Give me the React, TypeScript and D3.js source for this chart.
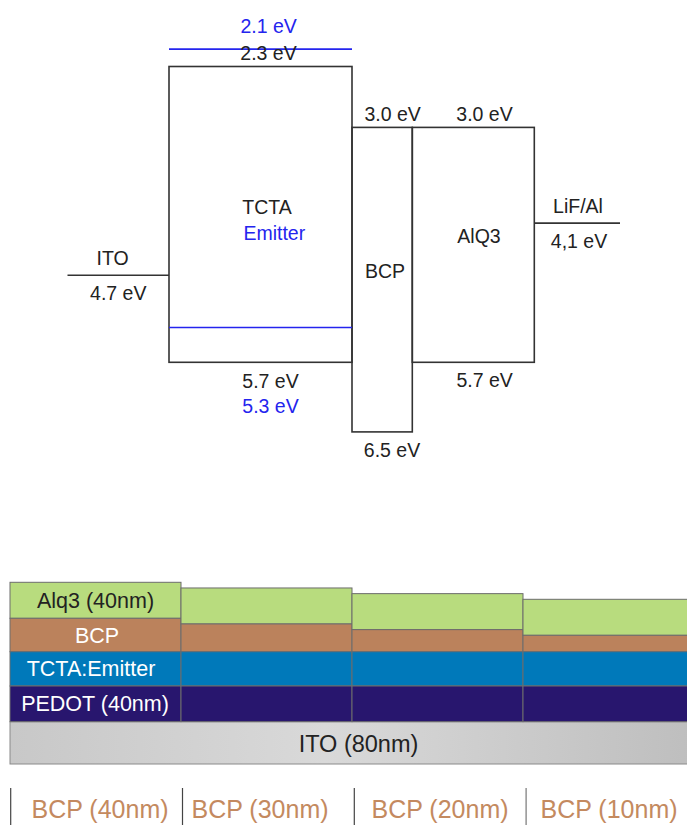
import { useEffect, useRef } from 'react';
import * as d3 from 'd3';

// energy levels (eV)
const boxMaterials = ['TCTA', 'BCP', 'AlQ3'];
const boxLumo = [2.3, 3.0, 3.0];
const boxHomo = [5.7, 6.5, 5.7];
const emitterLevels = [2.1, 5.3];
const electrodes = ['ITO', 'LiF/Al'];
const workFunction = [4.7, 4.1];
const workFunctionText = ['4.7 eV', '4,1 eV'];

// device stack
const deviceColumns = ['BCP (40nm)', 'BCP (30nm)', 'BCP (20nm)', 'BCP (10nm)'];
const bcpThickness = [40, 30, 20, 10];
const stackLabels = ['Alq3 (40nm)', 'BCP', 'TCTA:Emitter', 'PEDOT (40nm)'];
const itoLabel = 'ITO (80nm)';

const W = 687;
const H = 825;
const FONT = '"Liberation Sans", Arial, sans-serif';
const BLUE = '#2424ee';
const INK = '#222';

export default function App() {
  const svgRef = useRef<SVGSVGElement>(null);

  useEffect(() => {
    if (!svgRef.current) return;
    const svg = d3.select(svgRef.current);
    svg.selectAll('*').remove();

    const fmt = (v: number) => `${v.toFixed(1)} eV`;

    // ---------- energy diagram ----------
    const eY = d3.scaleLinear().domain([2.3, 5.7]).range([66.5, 362.3]);
    const edges = [67.5, 169, 352, 412.3, 534.3, 620];

    const top = svg.append('g');

    // boxes
    boxMaterials.forEach((_, i) => {
      top
        .append('rect')
        .attr('x', edges[i + 1])
        .attr('y', eY(boxLumo[i]))
        .attr('width', edges[i + 2] - edges[i + 1])
        .attr('height', eY(boxHomo[i]) - eY(boxLumo[i]))
        .attr('fill', 'none')
        .attr('stroke', '#333')
        .attr('stroke-width', 1.6);
    });

    // emitter levels inside TCTA
    emitterLevels.forEach((v) => {
      top
        .append('line')
        .attr('x1', edges[1])
        .attr('x2', edges[2])
        .attr('y1', eY(v))
        .attr('y2', eY(v))
        .attr('stroke', BLUE)
        .attr('stroke-width', 1.6);
    });

    // electrodes
    const elX = [
      [edges[0], edges[1]],
      [edges[4], edges[5]],
    ];
    electrodes.forEach((_, i) => {
      top
        .append('line')
        .attr('x1', elX[i][0])
        .attr('x2', elX[i][1])
        .attr('y1', eY(workFunction[i]))
        .attr('y2', eY(workFunction[i]))
        .attr('stroke', '#333')
        .attr('stroke-width', 1.6);
    });

    const label = (x: number, y: number, t: string, color = INK, size = 19.5) =>
      top
        .append('text')
        .attr('x', x)
        .attr('y', y)
        .attr('text-anchor', 'middle')
        .attr('font-family', FONT)
        .attr('font-size', size)
        .attr('fill', color)
        .text(t);

    // level labels
    const lumoX = [268.5, 392.7, 484.5];
    const homoX = [270.5, 392, 484.7];
    const homoDy = [26, 25, 24.5];
    boxMaterials.forEach((_, i) => {
      label(lumoX[i], eY(boxLumo[i]) - 6.3, fmt(boxLumo[i]));
      label(homoX[i], eY(boxHomo[i]) + homoDy[i], fmt(boxHomo[i]));
    });
    label(268.7, eY(emitterLevels[0]) - 16, fmt(emitterLevels[0]), BLUE);
    label(270.5, eY(boxHomo[0]) + 51, fmt(emitterLevels[1]), BLUE);

    // names
    label(267, 214, boxMaterials[0]);
    label(274.3, 240, 'Emitter', BLUE);
    label(385, 278.3, boxMaterials[1]);
    label(479, 243.3, boxMaterials[2]);

    const elNameX = [112.7, 578];
    const elValX = [118.3, 579];
    electrodes.forEach((name, i) => {
      label(elNameX[i], eY(workFunction[i]) - 10, name);
      label(elValX[i], eY(workFunction[i]) + 24.5, workFunctionText[i]);
    });

    // ---------- device stack ----------
    const defs = svg.append('defs');
    const grad = defs
      .append('linearGradient')
      .attr('id', 'itoGrad')
      .attr('x1', '0%')
      .attr('x2', '100%');
    grad.append('stop').attr('offset', '0%').attr('stop-color', '#c8c8c8');
    grad.append('stop').attr('offset', '45%').attr('stop-color', '#d9d9d9');
    grad.append('stop').attr('offset', '100%').attr('stop-color', '#bdbdbd');

    const colX = d3.scaleBand<string>().domain(deviceColumns).range([10, 694]).padding(0);
    const bcpH = d3.scaleLinear().domain([10, 40]).range([16.4, 33.4]);

    const itoTop = 721.7;
    const itoBottom = 764;
    const pedotH = 35.7;
    const tctaH = 34.3;
    const alqH = 36;
    const layerStroke = '#6d6d6d';

    const bottom = svg.append('g');

    bottom
      .append('rect')
      .attr('x', 10)
      .attr('y', itoTop)
      .attr('width', 700)
      .attr('height', itoBottom - itoTop)
      .attr('fill', 'url(#itoGrad)')
      .attr('stroke', '#8a8a8a')
      .attr('stroke-width', 1);

    const cols = bottom
      .selectAll('.col')
      .data(deviceColumns)
      .enter()
      .append('g')
      .attr('class', 'col');

    cols.each(function (c, i) {
      const g = d3.select(this);
      const x = colX(c) as number;
      const w = colX.bandwidth();
      const pedotTop = itoTop - pedotH;
      const tctaTop = pedotTop - tctaH;
      const bcpTop = tctaTop - bcpH(bcpThickness[i]);
      const alqTop = bcpTop - alqH;
      const layers = [
        { y: alqTop, h: alqH, fill: '#b8dc7e' },
        { y: bcpTop, h: bcpH(bcpThickness[i]), fill: '#bb825c' },
        { y: tctaTop, h: tctaH, fill: '#0079ba' },
        { y: pedotTop, h: pedotH, fill: '#28166e' },
      ];
      layers.forEach((l) => {
        g.append('rect')
          .attr('x', x)
          .attr('y', l.y)
          .attr('width', w)
          .attr('height', l.h)
          .attr('fill', l.fill)
          .attr('stroke', layerStroke)
          .attr('stroke-width', 1);
      });
      if (i === 0) {
        const colors = [INK, '#fff', '#fff', '#fff'];
        const lx = [95.5, 97, 91, 95];
        layers.forEach((l, k) => {
          g.append('text')
            .attr('x', lx[k])
            .attr('y', l.y + l.h / 2 + 7.5)
            .attr('text-anchor', 'middle')
            .attr('font-family', FONT)
            .attr('font-size', 21.5)
            .attr('fill', colors[k])
            .text(stackLabels[k]);
        });
      }
    });

    bottom
      .append('text')
      .attr('x', 358.5)
      .attr('y', 752)
      .attr('text-anchor', 'middle')
      .attr('font-family', FONT)
      .attr('font-size', 23.5)
      .attr('fill', INK)
      .text(itoLabel);

    // column captions
    const capOffset = [4.5, -6.5, 2.5, 0.5];
    deviceColumns.forEach((c, i) => {
      const x = colX(c) as number;
      bottom
        .append('line')
        .attr('x1', x + 0.7 + i * 0.8)
        .attr('x2', x + 0.7 + i * 0.8)
        .attr('y1', 788)
        .attr('y2', H)
        .attr('stroke', i === 3 ? '#777' : '#444')
        .attr('stroke-width', 1.2);
      bottom
        .append('text')
        .attr('x', x + colX.bandwidth() / 2 + capOffset[i])
        .attr('y', 818)
        .attr('text-anchor', 'middle')
        .attr('font-family', FONT)
        .attr('font-size', 25)
        .attr('fill', '#c48a5f')
        .text(c);
    });
  }, []);

  return (
    <svg
      ref={svgRef}
      width={W}
      height={H}
      style={{ position: 'absolute', left: 0, top: 0, background: '#fff' }}
    />
  );
}
